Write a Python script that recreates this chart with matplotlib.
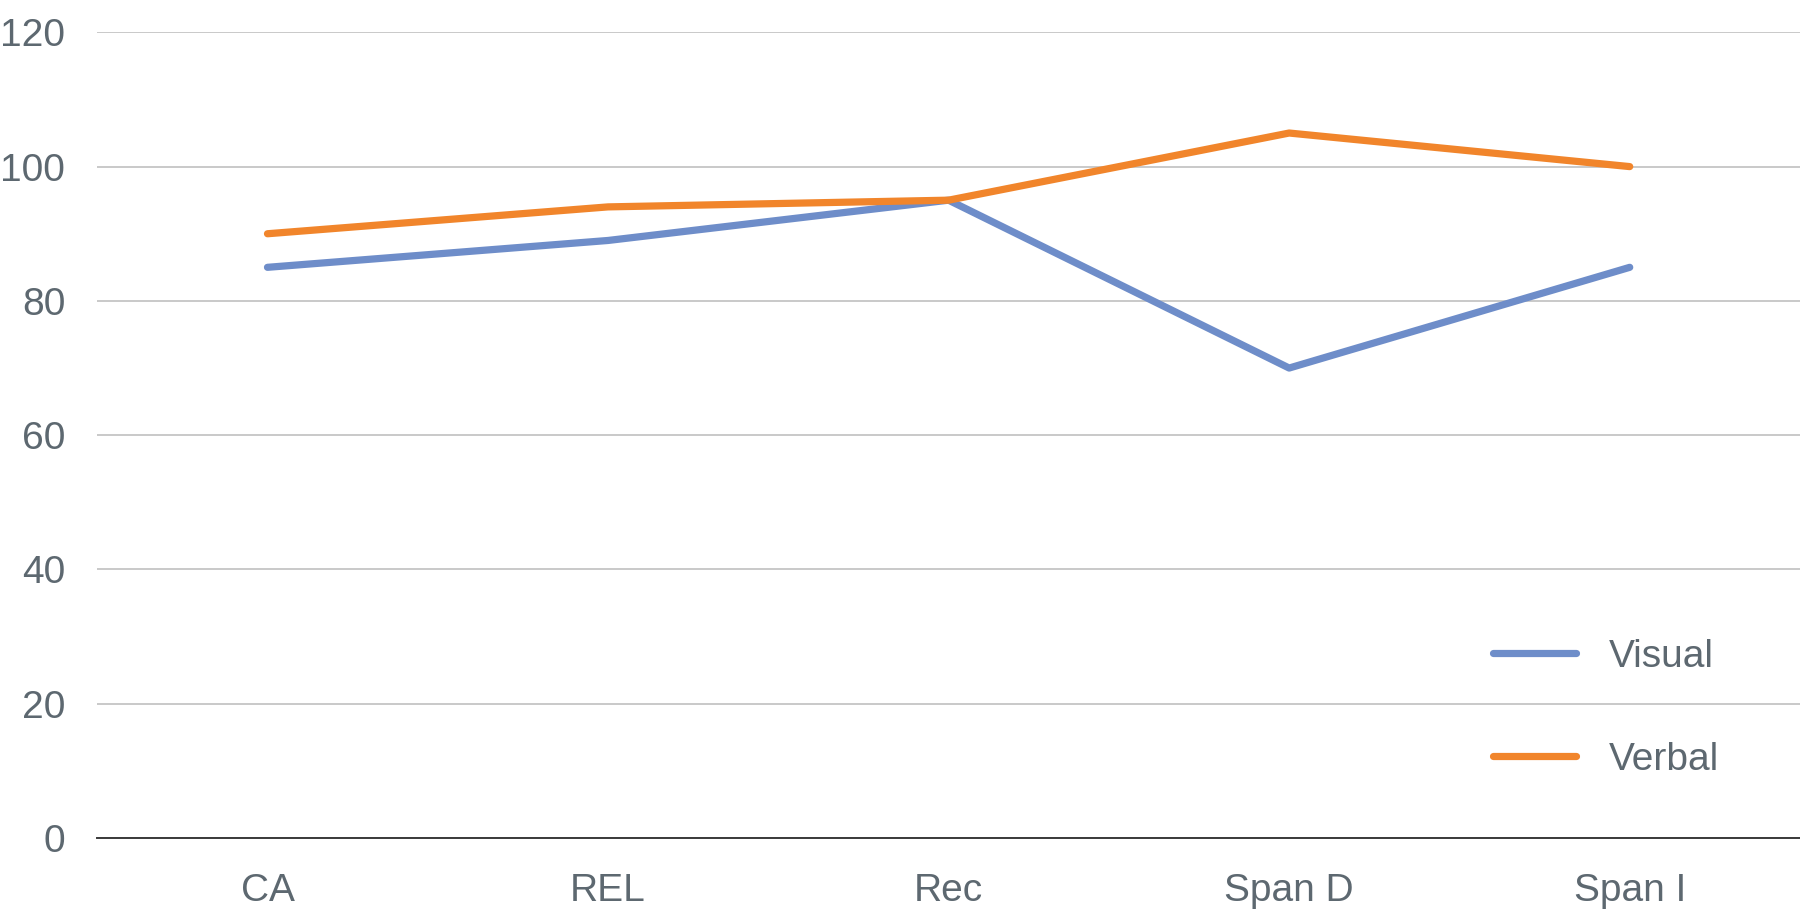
"""Visual vs verbal scores across tasks."""
import matplotlib.pyplot as plt

categories = ["CA", "REL", "Rec", "Span D", "Span I"]
visual = [85, 89, 95, 70, 85]
verbal = [90, 94, 95, 105, 100]
y_ticks = [0, 20, 40, 60, 80, 100, 120]

plt.rcParams["font.family"] = ["Liberation Sans", "DejaVu Sans"]

TEXT = "#5d6870"
FS = 28

fig = plt.figure(figsize=(18, 9.23), dpi=100)
ax = fig.add_axes([0.054, 0.092, 0.946, 0.873])

x = range(len(categories))
ax.plot(x, visual, color="#6e8dc9", linewidth=5.2, solid_capstyle="round", label="Visual", zorder=3)
ax.plot(x, verbal, color="#f1852b", linewidth=5.2, solid_capstyle="round", label="Verbal", zorder=3)

ax.set_xlim(-0.5, len(categories) - 0.5)
ax.set_ylim(0, 120)
ax.set_yticks(y_ticks)
ax.set_xticks(list(x))
ax.set_xticklabels(categories)
ax.tick_params(axis="both", length=0, labelsize=FS, colors=TEXT)
ax.tick_params(axis="x", pad=25)
ax.tick_params(axis="y", pad=23)

ax.grid(axis="y", color="#c9c9c9", linewidth=1.4)
ax.set_axisbelow(True)
for side in ("left", "right", "top"):
    ax.spines[side].set_visible(False)
ax.spines["bottom"].set_color("#3a3a3a")
ax.spines["bottom"].set_linewidth(1.4)

leg = ax.legend(loc="upper left", bbox_to_anchor=(1493 / 1800, 1 - 639 / 923),
                bbox_transform=fig.transFigure, frameon=False, fontsize=FS,
                handlelength=2.13, handletextpad=0.85, labelspacing=1.72,
                borderpad=0, borderaxespad=0)
for t in leg.get_texts():
    t.set_color(TEXT)

fig.savefig("out.png", dpi=100)
